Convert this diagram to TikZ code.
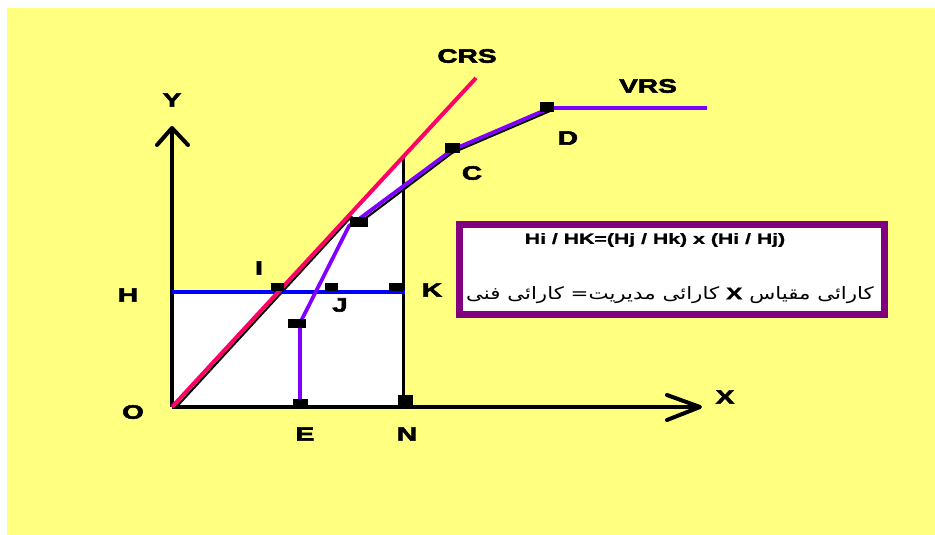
\documentclass[tikz,border=0pt]{standalone}
\usepackage{fontspec}
\newfontfamily\lblfont{Liberation Sans}[UprightFont={* Bold}, FakeStretch=1.45, FakeBold=3]
\newfontfamily\formfont{Liberation Sans}[UprightFont={* Bold}, FakeStretch=1.45, FakeBold=1]
\newfontfamily\arabicfont{DejaVu Sans}[Script=Arabic,FakeStretch=1.25]
\TeXXeTstate=1
\definecolor{bgyellow}{HTML}{FFFF80}
\definecolor{crspink}{HTML}{FF0066}
\definecolor{vrspurple}{HTML}{8000FF}
\definecolor{boxpurple}{HTML}{800080}
\tikzset{
  lbl/.style={inner sep=0pt, font=\lblfont\fontsize{14.5}{15}\selectfont},
  sq/.style={fill=black, inner sep=0pt, draw=none},
  axis/.style={line width=3pt, black},
  chev/.style={line width=3pt, black, line join=round, line cap=round},
}
\begin{document}
\begin{tikzpicture}[x=0.75pt,y=-0.75pt]
\useasboundingbox (0,0) rectangle (935,535);
\fill[white] (0,0) rectangle (935,535);
\fill[bgyellow] (7,8) rectangle (935,535);
% named points
\coordinate (O) at (172,407);
\coordinate (Ytip) at (172,128);
\coordinate (Xtip) at (700,407);
\coordinate (Hl) at (172,292);
\coordinate (Hr) at (405,292);
\coordinate (CRSend) at (476,78);
\coordinate (Ntop) at (403,158);
\coordinate (Nbot) at (403,407);
\coordinate (Iw) at (278,292);
\coordinate (Ebot) at (300,403);
\coordinate (Lw) at (300,323);
\coordinate (Bw) at (349,226);
\coordinate (Bw2) at (359,219);
\coordinate (Cw) at (452,150);
\coordinate (Dw) at (550,108);
\coordinate (VRSend) at (707,108);
% white region
\fill[white] (O) -- (Hl) -- (Iw) -- (Ntop) -- (Nbot) -- cycle;
% black under-lines
\draw[line width=1.6pt, black] (175,408.5) -- (352,216);
\draw[line width=1.6pt, black] (358,224) -- (452,153) -- (550,111);
% vertical at N
\draw[line width=2.25pt, black] (Ntop) -- (Nbot);
% axes
\draw[axis] (O) -- (Ytip);
\draw[axis] (O) -- (698,407);
\draw[chev] (157,145) -- (Ytip) -- (188,145);
\draw[chev] (667,395) -- (Xtip) -- (667,420);
% blue H line
\draw[line width=2.4pt, blue] (Hl) -- (Hr);
% CRS
\draw[line width=3pt, crspink] (O) -- (CRSend);
% VRS
\draw[line width=2.8pt, vrspurple, line join=round] (Ebot) -- (Lw) -- (Bw) -- (Bw2) -- (Cw) -- (Dw) -- (VRSend);
% markers
\node[sq, minimum width=9.75pt, minimum height=6pt] (mI) at (277,287) {};
\node[sq, minimum width=9.75pt, minimum height=6pt] (mJ) at (331,287) {};
\node[sq, minimum width=10.5pt, minimum height=6pt] (mK) at (396,287) {};
\node[sq, minimum width=13.5pt, minimum height=6.75pt] (mL) at (297,323) {};
\node[sq, minimum width=11.25pt, minimum height=6.75pt] (mE) at (300,403) {};
\node[sq, minimum width=11.25pt, minimum height=9pt] (mN) at (405,401) {};
\node[sq, minimum width=13.5pt, minimum height=7.5pt] (mB) at (359,222) {};
\node[sq, minimum width=11.25pt, minimum height=7.5pt] (mC) at (452,148) {};
\node[sq, minimum width=10.5pt, minimum height=7.5pt] (mD) at (547,107) {};
% labels
\node[lbl] (tCRS) at (467,56) {CRS};
\node[lbl] (tVRS) at (648,86) {VRS};
\node[lbl] (tY) at (172,100) {Y};
\node[lbl] (tX) at (725,397) {X};
\node[lbl] (tO) at (133,412) {O};
\node[lbl] (tH) at (128,295) {H};
\node[lbl] (tE) at (305,434) {E};
\node[lbl] (tN) at (407,434) {N};
\node[lbl] (tK) at (432,290) {K};
\node[lbl] (tI) at (259,268) {I};
\node[lbl] (tJ) at (340,305) {J};
\node[lbl] (tC) at (472,173) {C};
\node[lbl] (tD) at (568,138) {D};
% formula box
\node[draw=boxpurple, line width=5.25pt, fill=white, minimum width=318.75pt, minimum height=67.5pt, inner sep=0pt] (box) at (672,269.5) {};
\node[inner sep=0pt, font=\formfont\fontsize{11}{12}\selectfont] (formula) at (655,240) {Hi / HK=(Hj / Hk) x (Hi / Hj)};
\node[inner sep=0pt, font=\arabicfont\fontsize{12.8}{14}\selectfont] (persian) at (670,295) {\beginR کارائی مقیاس \beginL{\formfont X}\endL{} کارائی مدیریت= کارائی فنی\endR};
\end{tikzpicture}
\end{document}
